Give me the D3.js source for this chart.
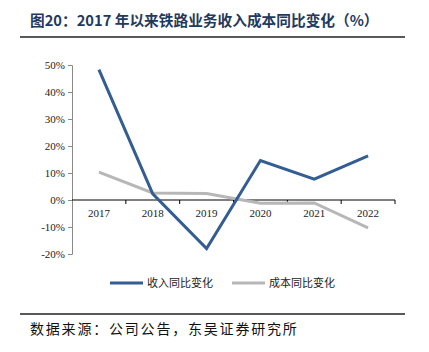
<!DOCTYPE html>
<html>
<head>
<meta charset="utf-8">
<script src="https://cdn.jsdelivr.net/npm/d3@7"></script>
<style>
  body { margin: 0; background: #fff; }
  svg { display: block; }
</style>
</head>
<body>
<div id="chart"></div>
<script>
(function(){
    const years = ['2017', '2018', '2019', '2020', '2021', '2022'];
    const revenueYoY = [48.3, 2.3, -18.0, 14.6, 7.7, 16.3];
    const costYoY = [10.3, 2.6, 2.4, -1.2, -1.1, -10.3];
    const yTicks = [-20, -10, 0, 10, 20, 30, 40, 50];
    const seriesNames = ['收入同比变化', '成本同比变化'];

    const fullWidth = 429;
    const fullHeight = 352;

    const margin = { top: 65, left: 72, bottom: 98, right: 34 };
    const width = fullWidth - margin.left - margin.right;
    const height = fullHeight - margin.top - margin.bottom;

    const blue = '#335d93';
    const grey = '#b7b7b7';
    const serif = '"Liberation Serif", "Times New Roman", serif';
    const cjk = '"Noto Sans CJK SC", sans-serif';

    const svg = d3.select('#chart')
        .append('svg')
            .attr('width', fullWidth)
            .attr('height', fullHeight);

    // title + rules
    svg.append('text')
        .attr('x', 30)
        .attr('y', 26)
        .style('font-family', cjk)
        .style('font-weight', 'bold')
        .style('font-size', '14.7px')
        .style('fill', '#1f3a5f')
        .text('图20：2017 年以来铁路业务收入成本同比变化（%）');

    svg.append('line')
        .attr('x1', 20).attr('x2', 405)
        .attr('y1', 37).attr('y2', 37)
        .style('stroke', '#222').style('stroke-width', 1.5);

    svg.append('line')
        .attr('x1', 20).attr('x2', 405)
        .attr('y1', 314).attr('y2', 314)
        .style('stroke', '#222').style('stroke-width', 1.5);

    svg.append('text')
        .attr('x', 30)
        .attr('y', 334)
        .style('font-family', cjk)
        .style('font-size', '14px')
        .style('letter-spacing', '1.8px')
        .style('fill', '#111')
        .text('数据来源：公司公告，东吴证券研究所');

    const g = svg.append('g')
        .attr('transform', `translate(${margin.left}, ${margin.top})`);

    const yScale = d3.scaleLinear()
        .domain([-20, 50])
        .range([height, 0]);

    const xScale = d3.scaleBand()
        .domain(years)
        .range([0, width]);

    // y axis
    const yAxis = d3.axisLeft(yScale)
        .tickValues(yTicks)
        .tickSize(4)
        .tickPadding(3)
        .tickFormat(d => d + '%');

    const yG = g.append('g').call(yAxis);
    yG.select('.domain').attr('stroke', '#8a8a8a');
    yG.selectAll('.tick line').attr('stroke', '#8a8a8a');
    yG.selectAll('text')
        .style('font-family', serif)
        .style('font-size', '11px')
        .style('fill', '#222');

    // x axis at zero
    const xAxis = d3.axisBottom(xScale)
        .tickSize(0)
        .tickPadding(9);

    const xG = g.append('g')
        .attr('transform', `translate(0, ${yScale(0)})`)
        .call(xAxis);
    xG.select('.domain').attr('stroke', '#000').attr('d', `M0,0H${width}`);
    xG.selectAll('text')
        .style('font-family', serif)
        .style('font-size', '11px')
        .style('fill', '#222');

    // boundary ticks between categories
    xG.selectAll('.sep')
        .data(years)
        .enter()
        .append('line')
            .attr('class', 'sep')
            .attr('x1', d => xScale(d) + xScale.bandwidth())
            .attr('x2', d => xScale(d) + xScale.bandwidth())
            .attr('y1', 0)
            .attr('y2', 4)
            .attr('stroke', '#000');

    const line = d3.line()
        .x((d, i) => xScale(years[i]) + xScale.bandwidth() / 2)
        .y(d => yScale(d));

    g.append('path')
        .datum(costYoY)
        .attr('d', line)
        .attr('fill', 'none')
        .attr('stroke', grey)
        .attr('stroke-width', 3);

    g.append('path')
        .datum(revenueYoY)
        .attr('d', line)
        .attr('fill', 'none')
        .attr('stroke', blue)
        .attr('stroke-width', 3);

    // legend
    const legend = svg.append('g')
        .attr('transform', 'translate(110, 283)');

    const items = legend.selectAll('.item')
        .data(seriesNames)
        .enter()
        .append('g')
            .attr('class', 'item')
            .attr('transform', (d, i) => `translate(${i * 122}, 0)`);

    items.append('line')
        .attr('x1', 0).attr('x2', 33)
        .attr('y1', 0).attr('y2', 0)
        .attr('stroke', (d, i) => i === 0 ? blue : grey)
        .attr('stroke-width', 3);

    items.append('text')
        .attr('x', 37)
        .attr('y', 4)
        .style('font-family', cjk)
        .style('font-size', '11px')
        .style('fill', '#222')
        .text(d => d);
}())
</script>
</body>
</html>
